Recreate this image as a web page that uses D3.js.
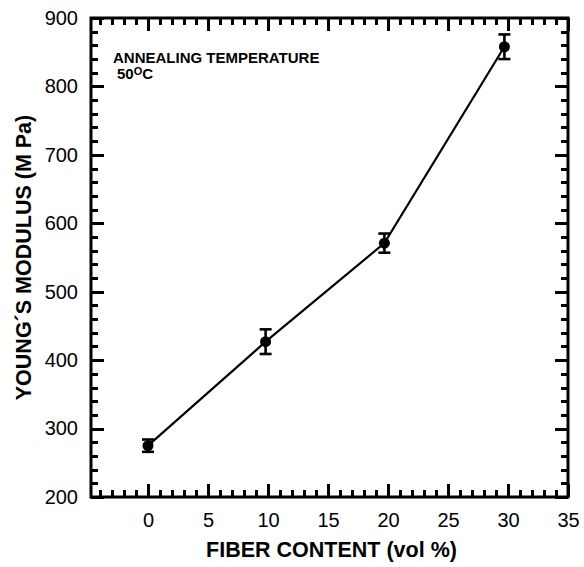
<!DOCTYPE html>
<html>
<head>
<meta charset="utf-8">
<script src="https://cdn.jsdelivr.net/npm/d3@7"></script>
<style>
  html, body { margin: 0; padding: 0; background: #fff; }
  svg { display: block; }
  text { font-family: "Liberation Sans", Arial, Helvetica, sans-serif; fill: #000; }
</style>
</head>
<body>
<script>
// ---- data ----
const fiberContent = [0, 9.8, 19.7, 29.7];          // vol %
const youngsModulus = [275, 427, 571, 858];         // MPa
const errorValues = [9, 18, 14, 18];                 // MPa (±)
const xTickLabels = [0, 5, 10, 15, 20, 25, 30, 35];
const yTickLabels = [200, 300, 400, 500, 600, 700, 800, 900];
const xTitle = "FIBER CONTENT (vol %)";
const yTitle = "YOUNG\u00B4S MODULUS (M Pa)";
const noteLine1 = "ANNEALING TEMPERATURE";

// ---- layout ----
const W = 584, H = 567;
const pLeft = 91, pRight = 568, pTop = 18, pBottom = 497;

const svg = d3.select("body").append("svg").attr("width", W).attr("height", H);

const x = d3.scaleLinear().domain([-4.75, 35]).range([pLeft, pRight]);
const y = d3.scaleLinear().domain([200, 900]).range([pBottom, pTop]);

const xMinor = d3.range(-4, 36, 1).filter(v => v % 5 !== 0);
const yMinor = d3.range(220, 900, 20).filter(v => v % 100 !== 0);

const majorLen = 13, minorLen = 7;

// tick labels via d3 axes
function labelAxis(g) {
  g.select(".domain").remove();
  g.selectAll(".tick line").remove();
  g.selectAll(".tick text").style("font-size", "20px");
}
svg.append("g").attr("transform", `translate(0,${pBottom})`)
  .call(d3.axisBottom(x).tickValues(xTickLabels).tickSize(0).tickPadding(16).tickFormat(d3.format("d")))
  .call(labelAxis);
svg.append("g").attr("transform", `translate(${pLeft},0)`)
  .call(d3.axisLeft(y).tickValues(yTickLabels).tickSize(0).tickPadding(13).tickFormat(d3.format("d")))
  .call(labelAxis);

// frame
svg.append("rect")
  .attr("x", pLeft).attr("y", pTop)
  .attr("width", pRight - pLeft).attr("height", pBottom - pTop)
  .attr("fill", "none").attr("stroke", "#000").attr("stroke-width", 3);

// inward tick marks on all four sides (drawn after frame)
const tk = svg.append("g").attr("stroke", "#000").attr("stroke-width", 3).attr("stroke-linecap", "butt");
function addX(vals, len) {
  vals.forEach(v => {
    const px = Math.round(x(v)) + 0.5;
    tk.append("line").attr("x1", px).attr("x2", px).attr("y1", pBottom).attr("y2", pBottom - len);
    tk.append("line").attr("x1", px).attr("x2", px).attr("y1", pTop).attr("y2", pTop + len);
  });
}
function addY(vals, len) {
  vals.forEach(v => {
    const py = Math.round(y(v)) + 0.5;
    tk.append("line").attr("y1", py).attr("y2", py).attr("x1", pLeft).attr("x2", pLeft + len);
    tk.append("line").attr("y1", py).attr("y2", py).attr("x1", pRight).attr("x2", pRight - len);
  });
}
addX(xTickLabels, majorLen);
addX(xMinor, minorLen);
addY(yTickLabels, majorLen);
addY(yMinor, minorLen);

// data
const pts = fiberContent.map((v, i) => ({ x: v, y: youngsModulus[i], e: errorValues[i] }));

svg.append("path").datum(pts)
  .attr("fill", "none").attr("stroke", "#000").attr("stroke-width", 2.2)
  .attr("d", d3.line().x(d => x(d.x)).y(d => y(d.y)));

const eb = svg.append("g").attr("stroke", "#000").attr("stroke-width", 2.6);
const cap = 6;
pts.forEach(d => {
  eb.append("line").attr("x1", x(d.x)).attr("x2", x(d.x)).attr("y1", y(d.y - d.e)).attr("y2", y(d.y + d.e));
  eb.append("line").attr("x1", x(d.x) - cap).attr("x2", x(d.x) + cap).attr("y1", y(d.y - d.e)).attr("y2", y(d.y - d.e));
  eb.append("line").attr("x1", x(d.x) - cap).attr("x2", x(d.x) + cap).attr("y1", y(d.y + d.e)).attr("y2", y(d.y + d.e));
});

svg.append("g").selectAll("circle").data(pts).join("circle")
  .attr("cx", d => x(d.x)).attr("cy", d => y(d.y)).attr("r", 5.5).attr("fill", "#000");

// titles
svg.append("text")
  .attr("x", (pLeft + pRight) / 2 + 2).attr("y", 557)
  .attr("text-anchor", "middle")
  .style("font-size", "21.5px").style("font-weight", "bold")
  .text(xTitle);

svg.append("text")
  .attr("transform", `translate(31,${(pTop + pBottom) / 2}) rotate(-90)`)
  .attr("text-anchor", "middle")
  .style("font-size", "21.5px").style("font-weight", "bold")
  .text(yTitle);

// annotation
svg.append("text")
  .attr("x", 113).attr("y", 63)
  .style("font-size", "15px").style("font-weight", "bold")
  .text(noteLine1);

const t2 = svg.append("text")
  .attr("x", 117).attr("y", 79)
  .style("font-size", "15px").style("font-weight", "bold");
t2.append("tspan").text("50");
t2.append("tspan").attr("dy", -4).style("font-size", "11px").text("O");
t2.append("tspan").attr("dy", 4).text("C");
</script>
</body>
</html>
